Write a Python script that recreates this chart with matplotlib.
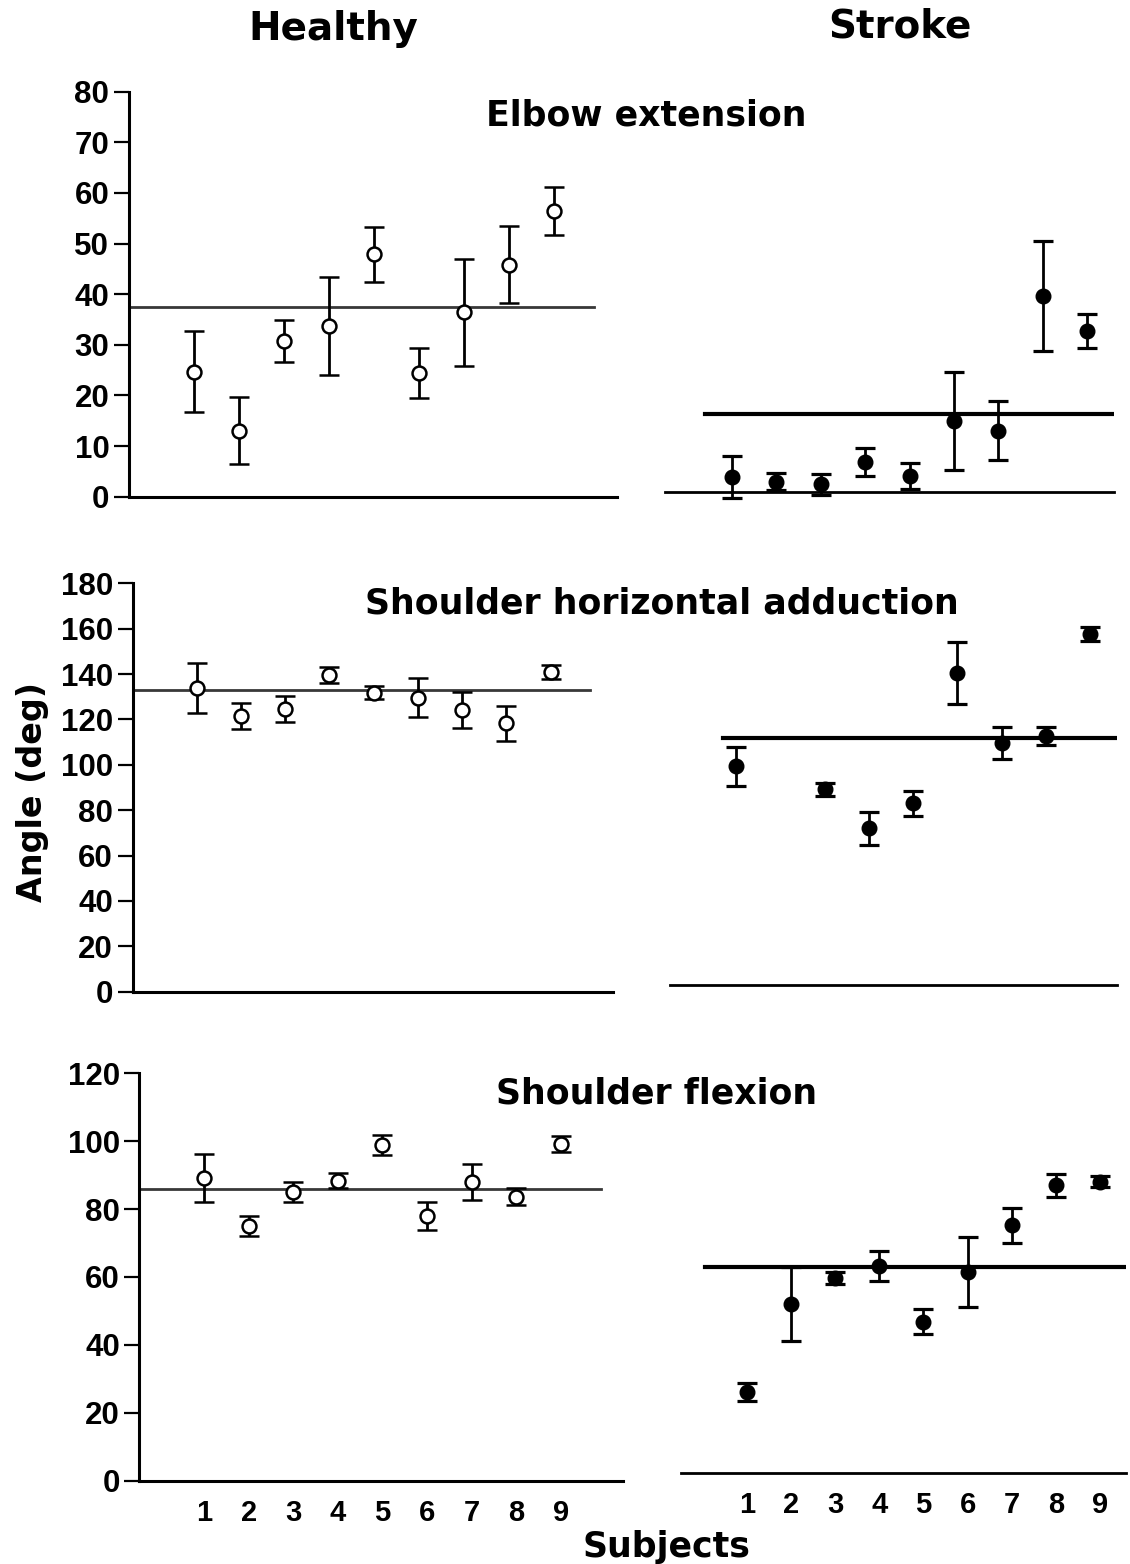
import numpy as np
import matplotlib
matplotlib.use("Agg")
import matplotlib.pyplot as plt

W, H = 1130, 1564
subjects = np.arange(1, 10)

# Elbow extension (deg): mean and SD per subject
elbow_healthy = [24.7, 13.0, 30.8, 33.7, 47.9, 24.4, 36.4, 45.8, 56.4]
elbow_healthy_sd = [8.0, 6.6, 4.1, 9.6, 5.4, 5.0, 10.6, 7.6, 4.8]
elbow_stroke = [3.0, 2.0, 1.5, 5.9, 3.2, 14.1, 12.1, 38.7, 31.8]
elbow_stroke_sd = [4.2, 1.7, 2.0, 2.7, 2.6, 9.7, 5.8, 10.8, 3.4]
elbow_group_mean = [37.5, 15.5]

# Shoulder horizontal adduction (deg); stroke subject 2 not measured
shadd_healthy = [133.7, 121.5, 124.5, 139.6, 131.8, 129.6, 124.2, 118.3, 141.0]
shadd_healthy_sd = [11.0, 5.7, 5.7, 3.4, 2.8, 8.5, 8.0, 7.7, 3.0]
shadd_stroke = [96.5, np.nan, 86.2, 69.0, 80.0, 137.6, 106.5, 109.7, 154.6]
shadd_stroke_sd = [8.6, np.nan, 3.0, 7.2, 5.3, 13.6, 7.0, 4.0, 3.0]
shadd_group_mean = [133.0, 109.0]

# Shoulder flexion (deg)
flex_healthy = [89.1, 75.1, 85.1, 88.4, 98.9, 78.0, 88.1, 83.7, 99.1]
flex_healthy_sd = [7.0, 3.0, 3.0, 2.2, 3.0, 4.2, 5.3, 2.5, 2.4]
flex_stroke = [23.8, 49.8, 57.5, 60.9, 44.6, 59.2, 73.0, 84.7, 85.8]
flex_stroke_sd = [2.6, 11.0, 1.8, 4.4, 3.8, 10.3, 5.2, 3.4, 1.7]
flex_group_mean = [86.0, 60.7]

titles = ["Elbow extension", "Shoulder horizontal adduction", "Shoulder flexion"]
ymax = [80, 180, 120]
ystep = [10, 20, 20]

plt.rcParams["font.family"] = "DejaVu Sans"
plt.rcParams["font.weight"] = "bold"
TICK_FAMILY = "Liberation Sans"

fig = plt.figure(figsize=(W / 100, H / 100), dpi=100)


def px_axes(left, right, bottom, top):
    return fig.add_axes([left / W, 1 - bottom / H, (right - left) / W, (bottom - top) / H])


def bold_labels(labels):
    for lab in labels:
        lab.set_fontfamily(TICK_FAMILY)
        lab.set_fontweight("bold")


# pixel boxes (left, right, baseline, top) for each row
healthy_box = [(128.7, 616.7, 496.7, 91.7), (132.5, 612.6, 991.7, 583.3), (139.3, 623.3, 1480.7, 1073.3)]
stroke_box = [(665.4, 1113.8, 492.0, 87.0), (669.6, 1116.6, 985.0, 576.6), (680.9, 1126.3, 1473.0, 1065.6)]
stroke_line_start = [0.4, 0.7, 0.05]
title_pos = [(646, 126), (662, 614), (657, 1104)]

healthy_data = [(elbow_healthy, elbow_healthy_sd), (shadd_healthy, shadd_healthy_sd), (flex_healthy, flex_healthy_sd)]
stroke_data = [(elbow_stroke, elbow_stroke_sd), (shadd_stroke, shadd_stroke_sd), (flex_stroke, flex_stroke_sd)]
group_means = [elbow_group_mean, shadd_group_mean, flex_group_mean]

for r in range(3):
    # healthy side
    ax = px_axes(*healthy_box[r])
    ax.set_xlim(-0.45, 10.4)
    ax.set_ylim(0, ymax[r])
    m, sd = healthy_data[r]
    ax.plot([-0.45, 9.9], [group_means[r][0]] * 2, color="0.22", lw=2.0, zorder=1)
    ax.errorbar(subjects, m, yerr=sd, fmt="o", ms=10, mfc="white", mec="black", mew=1.8,
                ecolor="black", elinewidth=2.0, capsize=7, capthick=2.3, zorder=3, clip_on=False)
    for s in ["top", "right"]:
        ax.spines[s].set_visible(False)
    ax.spines["left"].set_linewidth(2.2)
    ax.spines["bottom"].set_linewidth(2.2)
    ax.set_yticks(np.arange(0, ymax[r] + 1, ystep[r]))
    ax.tick_params(axis="y", length=11, width=1.6, pad=3, labelsize=22.5)
    bold_labels(ax.get_yticklabels())
    ax.set_xticks(subjects)
    ax.tick_params(axis="x", length=0, pad=13, labelsize=21)
    if r < 2:
        ax.set_xticklabels([])
    else:
        bold_labels(ax.get_xticklabels())
    ax.patch.set_alpha(0)

    # stroke side
    ax2 = px_axes(*stroke_box[r])
    ax2.set_xlim(-0.5, 9.6)
    ax2.set_ylim(0, ymax[r])
    m, sd = stroke_data[r]
    ax2.plot([stroke_line_start[r], 9.6], [group_means[r][1]] * 2, color="black", lw=3, zorder=1)
    ax2.errorbar(subjects, m, yerr=sd, fmt="o", ms=10.5, mfc="black", mec="black",
                 ecolor="black", elinewidth=2.0, capsize=7, capthick=2.3, zorder=3, clip_on=False)
    for s in ["top", "right", "left"]:
        ax2.spines[s].set_visible(False)
    ax2.spines["bottom"].set_linewidth(2.0)
    ax2.set_yticks([])
    ax2.set_xticks(subjects)
    ax2.tick_params(axis="x", length=0, pad=13, labelsize=21)
    if r < 2:
        ax2.set_xticklabels([])
    else:
        bold_labels(ax2.get_xticklabels())
    ax2.patch.set_alpha(0)

    tx, ty = title_pos[r]
    fig.text(tx / W, 1 - ty / H, titles[r], ha="center", va="baseline", fontsize=25, fontweight="bold")

fig.text(333 / W, 1 - 40 / H, "Healthy", ha="center", va="baseline", fontsize=28, fontweight="bold")
fig.text(900 / W, 1 - 37 / H, "Stroke", ha="center", va="baseline", fontsize=28, fontweight="bold")
fig.text(33 / W, 1 - 792 / H, "Angle (deg)", ha="center", va="center", rotation=90,
         fontsize=24, fontweight="bold")
fig.text(666 / W, 1 - 1557 / H, "Subjects", ha="center", va="baseline", fontsize=25, fontweight="bold")

fig.savefig("out.png", dpi=100, facecolor="white")
